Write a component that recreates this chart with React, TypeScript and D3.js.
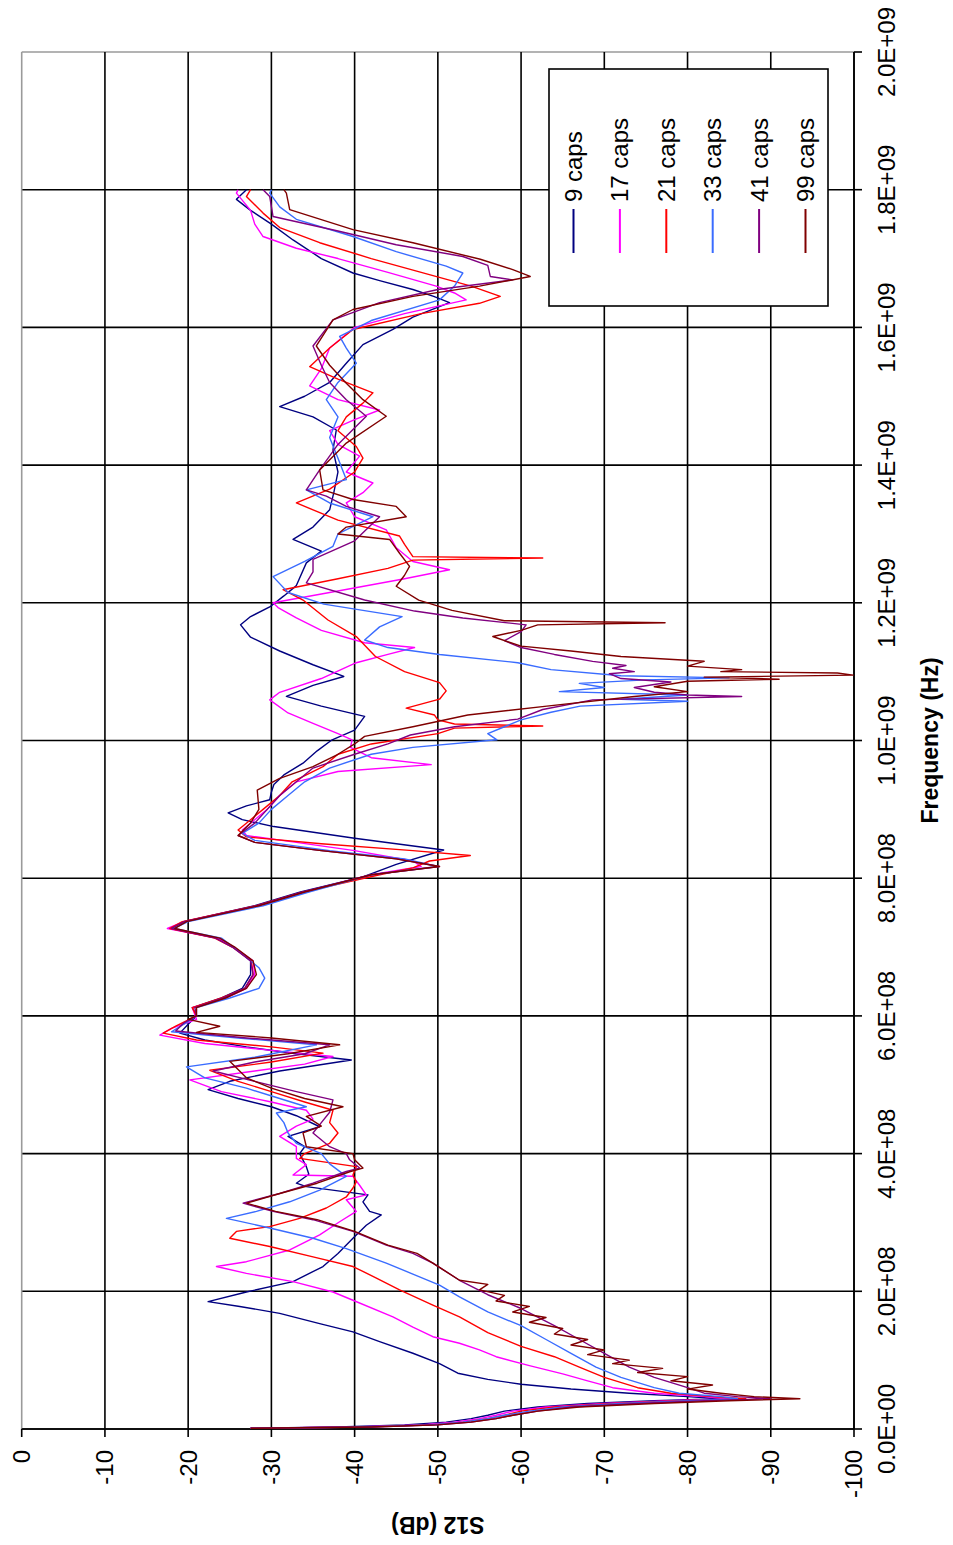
import React from 'react';
import * as d3 from 'd3';

// Axis ticks (frequency in MHz, S12 in dB)
const FREQ_TICKS = [0, 200, 400, 600, 800, 1000, 1200, 1400, 1600, 1800, 2000];
const DB_TICKS = [0, -10, -20, -30, -40, -50, -60, -70, -80, -90, -100];

const SERIES_NAMES = ['9 caps', '17 caps', '21 caps', '33 caps', '41 caps', '99 caps'];
const SERIES_COLORS = ['#000080', '#ff00ff', '#ff0000', '#3a6cff', '#800080', '#800000'];

type Pt = [number, number]; // [MHz, dB]

const caps9: Pt[] = [
  [1,-27.5],[3,-38],[6,-46],[10,-51],[15,-54],[20,-56],[26,-58],[32,-62],[37,-68],[41,-76],[44,-84],[47,-80],[52,-73],[58,-66],[65,-60],[72,-56],[81,-52.4],[95,-50.2],[110,-47],[127,-43],[141,-39.8],[153,-35.8],[168,-31],[178,-26.2],[185,-22.4],[199,-27],[214,-32.6],[236,-36.2],[255,-38],[277,-39.8],[296,-41.4],[311,-43.2],[316,-41.8],[330,-41],[340,-41.6],[352,-34.2],[357,-33],[370,-34.5],[381,-34.2],[400,-33.4],[410,-34],[425,-32],[439,-35.8],[455,-33],[468,-30],[480,-26],[493,-22.4],[505,-25],[520,-31],[536,-39.6],[545,-33],[555,-27],[565,-22],[575,-19],[588,-20],[600,-21],[612,-20.5],[626,-24],[640,-26.5],[660,-27.5],[680,-27.5],[700,-25.5],[713,-23.5],[727,-18],[737,-19.5],[760,-28],[780,-33.5],[802,-41],[820,-45],[841,-50.7],[858,-40],[875,-30.3],[885,-26.5],[895,-24.8],[905,-27],[914,-29.8],[925,-30],[936,-30.3],[950,-31.5],[967,-33.8],[985,-35.5],[1001,-37.3],[1015,-40],[1035,-41.2],[1050,-36],[1064,-31.8],[1080,-35],[1093,-38.7],[1110,-35],[1130,-31],[1150,-27.5],[1168,-26.3],[1180,-27.5],[1194,-29.8],[1210,-31.5],[1225,-33],[1258,-34.2],[1275,-36],[1292,-32.6],[1310,-35],[1335,-37],[1360,-37.5],[1390,-38],[1422,-37.4],[1451,-37.8],[1470,-35],[1485,-31],[1500,-34],[1520,-37],[1548,-39],[1575,-41],[1597,-44.6],[1615,-47],[1636,-51.4],[1645,-49.5],[1655,-47],[1668,-43],[1679,-39.8],[1700,-36],[1727,-32.6],[1750,-30],[1770,-27.5],[1786,-25.8],[1800,-27],
];

const caps17: Pt[] = [
  [1,-27.5],[3,-40],[6,-48],[10,-52],[15,-55],[20,-57],[26,-59],[32,-63],[37,-70],[41,-78],[44,-85],[47,-82],[52,-76],[60,-71],[70,-68],[80,-65],[92,-61],[105,-57],[115,-55],[124.5,-52.6],[134,-49.4],[148,-47],[163,-44.6],[187,-39.8],[199,-37.4],[214,-32.6],[226,-27],[236,-23.4],[243,-27],[260,-32.2],[282,-35.8],[301,-38.2],[316,-40.2],[333,-39],[340,-41.4],[354,-40.6],[367,-39.8],[369,-32.6],[384,-34.2],[393,-33],[410,-33],[425,-31],[440,-33],[450,-35],[463,-34.2],[475,-30],[490,-24],[507,-20.2],[520,-28],[530,-34],[541,-37.4],[550,-30],[560,-22],[572,-16.6],[582,-18],[595,-21],[612,-20.5],[626,-24.5],[640,-27],[660,-28],[680,-27.8],[700,-25.5],[713,-23.5],[727,-17.5],[737,-19.5],[760,-28.5],[780,-34],[805,-42],[817,-48],[825,-47],[840,-40],[852,-33],[862,-27],[870,-26.5],[885,-28],[900,-29.5],[920,-31],[940,-33],[955,-38],[965,-49.2],[975,-42],[990,-39.5],[1001,-39.7],[1010,-38],[1025,-35],[1040,-32],[1059,-29.8],[1070,-31],[1090,-36],[1113,-40.2],[1125,-44],[1135,-47.2],[1142,-41.2],[1160,-36],[1178,-33],[1193,-30.8],[1200,-30.2],[1215,-37],[1235,-46],[1248,-51.4],[1260,-47],[1280,-45],[1306,-43.8],[1325,-40],[1345,-39],[1360,-41],[1374,-42.2],[1390,-39],[1413,-40.6],[1430,-38],[1450,-37],[1466,-40],[1480,-43],[1495,-38],[1515,-34.6],[1540,-36],[1570,-37],[1600,-40],[1620,-46],[1640,-53.4],[1650,-52],[1660,-49.8],[1680,-44],[1700,-38],[1715,-33],[1732,-29],[1750,-28],[1770,-27.5],[1795,-25.8],[1800,-26],
];

const caps21: Pt[] = [
  [1,-27.5],[3,-41],[6,-49],[10,-53],[15,-56],[20,-58],[26,-60],[32,-64],[37,-71],[41,-79],[44,-87],[47,-83],[52,-78],[60,-74],[75,-70],[90,-67],[105,-64],[120,-60],[140,-56],[163,-52.6],[180,-49.4],[202,-45.4],[220,-42.5],[236,-39.8],[250,-35],[265,-29.8],[277,-25],[287,-25.8],[294,-29.8],[306,-33.4],[321,-36.6],[337,-39],[350,-39.8],[359,-40.2],[369,-39.8],[381,-40.2],[393,-33.4],[400,-34],[415,-37],[430,-38],[445,-37],[463,-37.4],[475,-34],[490,-30],[505,-26],[521,-22.6],[533,-30],[546,-36.2],[555,-30],[565,-21],[575,-17],[585,-18.5],[600,-21],[612,-20.5],[626,-24],[640,-26.8],[660,-27.8],[680,-27.6],[700,-25.3],[713,-23.2],[727,-17.8],[737,-19.3],[760,-28.2],[780,-33.8],[805,-43],[815,-47],[825,-49],[833,-53.9],[840,-47],[850,-36],[860,-27],[870,-26],[885,-27.5],[900,-29],[920,-31],[940,-32.5],[962,-36.2],[980,-38],[995,-42],[1010,-50],[1018,-52],[1021,-62.6],[1024,-52],[1030,-50],[1037,-49.6],[1047,-46.2],[1060,-50.2],[1072,-51],[1084,-50.2],[1100,-46],[1122,-42.5],[1151,-40.2],[1175,-36.8],[1204,-33.8],[1219,-31.4],[1235,-38],[1250,-44],[1262,-47],[1265,-62.6],[1267,-47],[1285,-46],[1297,-45.4],[1320,-38],[1345,-33],[1365,-37],[1390,-40],[1410,-41],[1427,-40.2],[1450,-38],[1470,-39],[1490,-41],[1505,-42.2],[1525,-38],[1543,-34.6],[1570,-37],[1597,-39.8],[1620,-48],[1635,-55],[1645,-57.5],[1660,-54],[1680,-48],[1700,-42],[1723,-35.8],[1745,-31],[1766,-29],[1790,-27],[1800,-27.5],
];

const caps33: Pt[] = [
  [1,-27.5],[3,-41],[6,-49],[10,-53],[15,-56],[20,-58],[26,-61],[32,-65],[37,-72],[41,-80],[44,-86],[47,-84],[52,-79],[60,-76],[75,-72],[90,-69],[110,-66],[130,-63],[150,-60],[170,-56],[192,-52.6],[209,-50.2],[225,-47],[241,-43.8],[262,-39],[277,-35],[292,-29.8],[306,-24.6],[316,-28.2],[330,-32.2],[347,-35.8],[367,-39],[385,-37],[400,-36],[415,-33],[430,-32],[445,-31.5],[459,-30.6],[468,-34.2],[480,-31],[495,-27],[510,-22],[526,-19.8],[540,-28],[558,-35.4],[568,-26],[577,-18],[588,-19.5],[600,-21],[612,-21],[626,-25],[640,-28.5],[655,-29.2],[670,-28.5],[690,-26.5],[713,-24],[727,-18.3],[737,-20],[760,-29],[780,-34.5],[805,-42],[817,-50],[828,-46],[840,-37],[855,-28],[865,-26.5],[880,-28.5],[900,-30],[920,-32],[940,-34],[960,-37],[980,-42],[990,-47],[1001,-57.1],[1010,-56],[1020,-58],[1030,-60],[1041,-63.6],[1050,-67.1],[1057,-80],[1060,-72],[1066,-80],[1071,-64.6],[1077,-70],[1083,-67],[1088,-75],[1091,-85],[1094,-72],[1103,-63.6],[1113,-59.6],[1125,-50.2],[1135,-44],[1146,-41.2],[1165,-43],[1180,-45.7],[1198,-36.3],[1215,-32],[1238,-30.2],[1260,-34],[1282,-37.4],[1300,-38],[1325,-42.2],[1345,-37],[1364,-34.2],[1379,-39],[1410,-38],[1440,-37],[1470,-38],[1495,-36.6],[1520,-38],[1548,-40.2],[1570,-39],[1587,-38.2],[1610,-42],[1640,-50.2],[1660,-52],[1679,-53],[1689,-51],[1710,-45],[1732,-39.8],[1757,-33],[1775,-31],[1795,-29.8],[1800,-30],
];

const caps41: Pt[] = [
  [1,-27.5],[3,-42],[6,-50],[10,-54],[15,-57],[20,-59],[26,-62],[32,-66],[37,-74],[41,-82],[44,-90],[47,-86],[52,-82],[60,-80],[75,-76],[90,-73],[110,-70],[130,-67],[150,-64],[175,-60],[195,-56],[216,-52.6],[241,-49.4],[255,-47],[267,-43.8],[287,-39.8],[304,-35],[316,-30.2],[328,-26.6],[342,-31],[357,-35],[374,-39],[379,-40.6],[391,-39.4],[400,-39],[410,-37],[430,-35],[445,-36],[460,-37],[478,-37.4],[490,-33],[505,-28],[520,-23],[533,-28],[545,-34],[558,-37],[568,-27],[578,-18.5],[590,-19.5],[600,-21],[612,-20.8],[626,-24.2],[640,-26.8],[660,-27.8],[680,-27.5],[700,-25.3],[713,-23.3],[727,-18],[737,-19.5],[760,-28.3],[780,-33.8],[805,-42],[817,-50.2],[828,-45],[840,-36],[852,-28],[862,-26],[880,-28],[900,-29.5],[920,-31],[940,-33],[960,-35],[980,-40],[995,-44],[1008,-46.7],[1020,-52],[1031,-59.6],[1045,-62.6],[1059,-68.6],[1064,-86.5],[1066,-80],[1070,-76],[1077,-73.6],[1085,-78],[1090,-72],[1097,-70.6],[1100,-73.6],[1105,-71],[1109,-72.6],[1115,-68.6],[1125,-64],[1135,-60],[1145,-58],[1158,-60],[1168,-60.6],[1178,-53],[1188,-47.2],[1204,-41.2],[1229,-34.2],[1245,-35],[1263,-35],[1290,-40],[1325,-43],[1340,-39],[1355,-36.6],[1364,-34.2],[1393,-35.8],[1430,-38],[1471,-41.4],[1495,-39],[1520,-37],[1545,-36],[1573,-35],[1611,-37.4],[1636,-43],[1655,-50],[1669,-59],[1674,-56.3],[1690,-56],[1703,-53],[1720,-45],[1740,-38],[1761,-30.2],[1790,-29.8],[1800,-29],
];

const caps99: Pt[] = [
  [1,-27.5],[3,-42],[6,-50],[10,-54],[15,-57],[20,-59],[26,-62],[32,-67],[37,-76],[41,-85],[44,-93.5],[47,-88],[52,-84],[58,-80],[64,-83],[70,-78],[76,-80],[82,-74],[88,-77],[95,-71],[100,-73],[108,-68],[115,-70],[122,-66],[130,-68],[138,-64],[146,-65],[155,-61],[162,-63],[170,-59],[178,-61],[186,-57],[194,-58],[202,-55],[210,-56],[216,-52.6],[241,-49.4],[255,-47.5],[267,-44],[287,-40],[304,-35.5],[316,-30.5],[328,-27],[342,-31],[357,-35.5],[374,-39.5],[379,-41],[391,-40],[400,-39.8],[410,-34.2],[430,-33.8],[440,-36],[454,-34.2],[468,-38.6],[480,-34],[495,-30],[510,-27],[534,-25],[545,-32],[558,-38.2],[568,-30],[576,-21],[585,-23.8],[595,-20],[600,-21],[612,-21],[626,-24.5],[640,-27],[660,-28.2],[680,-27.8],[700,-25.6],[713,-23.8],[727,-18.4],[737,-19.8],[760,-28.5],[780,-34],[805,-42],[817,-50.2],[828,-45],[840,-36],[852,-28],[862,-26],[880,-27.5],[900,-28.5],[928,-28.3],[945,-31],[962,-35],[980,-38],[995,-40],[1006,-41.2],[1020,-47],[1037,-53.6],[1050,-63.1],[1064,-73.6],[1071,-80],[1078,-76],[1086,-80],[1089,-91],[1092,-82],[1095,-99.9],[1098,-98],[1100,-84],[1103,-86.5],[1108,-80],[1115,-82],[1122,-72],[1130,-66],[1137,-60],[1151,-56.6],[1160,-60],[1168,-62],[1171,-77.3],[1174,-58],[1189,-51.7],[1204,-47.7],[1224,-45],[1240,-46],[1253,-46.6],[1272,-45.4],[1292,-44.2],[1300,-38],[1310,-39],[1325,-46.2],[1340,-45],[1350,-39.8],[1364,-36.2],[1393,-35.8],[1432,-39],[1471,-43.8],[1495,-41],[1519,-39],[1545,-37],[1573,-35.4],[1611,-37.4],[1626,-39.8],[1645,-47],[1660,-55],[1674,-61.1],[1684,-59],[1699,-55.1],[1723,-47],[1742,-39.8],[1771,-32.2],[1795,-31.8],[1800,-31.5],
];

const SERIES_DATA = [caps9, caps17, caps21, caps33, caps41, caps99];

const FONT = '"Liberation Sans", Arial, sans-serif';

function freqLabel(mhz: number): string {
  const hz = mhz * 1e6;
  if (hz === 0) return '0.0E+00';
  const exp = Math.floor(Math.log10(hz));
  const mant = hz / Math.pow(10, exp);
  return `${mant.toFixed(1)}E+${String(exp).padStart(2, '0')}`;
}

export default function App() {
  // The chart is laid out landscape (width x height) and then turned a quarter turn
  const W = 1545;
  const left = 116, right = 1493, top = 21.7, bottom = 854;

  const x = d3.scaleLinear().domain([0, 2000]).range([left, right]);
  const y = d3.scaleLinear().domain([0, -100]).range([top, bottom]);
  const line = d3.line<Pt>().x(d => x(d[0])).y(d => y(d[1]));

  const legX0 = 1239, legX1 = 1476, legY0 = 549, legY1 = 828;
  const legRowY = (i: number) => 573.5 + i * 46.4;

  return (
    <svg width={953} height={1545} style={{ position: 'absolute', left: 0, top: 0, background: '#fff' }}
      fontFamily={FONT}>
      <rect x={0} y={0} width={953} height={1545} fill="#fff" />
      <g transform={`translate(0,${W}) rotate(-90)`}>
        {/* grid */}
        {FREQ_TICKS.map(t => (
          <line key={'gx' + t} x1={x(t)} x2={x(t)} y1={top} y2={bottom}
            stroke={t === 2000 ? '#9a9a9a' : '#000'} strokeWidth={1.6} />
        ))}
        {DB_TICKS.map(t => (
          <line key={'gy' + t} x1={left} x2={right} y1={y(t)} y2={y(t)}
            stroke={t === 0 ? '#9a9a9a' : '#000'} strokeWidth={1.6} />
        ))}
        {/* axes */}
        <line x1={left} x2={left} y1={top} y2={bottom} stroke="#000" strokeWidth={1.6} />
        <line x1={left} x2={right} y1={bottom} y2={bottom} stroke="#000" strokeWidth={1.6} />
        {FREQ_TICKS.map(t => (
          <line key={'tx' + t} x1={x(t)} x2={x(t)} y1={bottom} y2={bottom + 8} stroke="#000" strokeWidth={1.6} />
        ))}
        {DB_TICKS.map(t => (
          <line key={'ty' + t} x1={left - 8} x2={left} y1={y(t)} y2={y(t)} stroke="#000" strokeWidth={1.6} />
        ))}

        {/* series */}
        {SERIES_DATA.map((data, i) => (
          <path key={SERIES_NAMES[i]} d={line(data) || ''} fill="none"
            stroke={SERIES_COLORS[i]} strokeWidth={1.4} strokeLinejoin="round" />
        ))}

        {/* tick labels */}
        {FREQ_TICKS.map(t => (
          <text key={'lx' + t} x={x(t)} y={bottom + 41} textAnchor="middle" fontSize={24}>{freqLabel(t)}</text>
        ))}
        {DB_TICKS.map(t => (
          <text key={'ly' + t} x={left - 21} y={y(t)} dy="0.35em" textAnchor="end" fontSize={24}>{t}</text>
        ))}

        {/* axis titles */}
        <text x={(left + right) / 2} y={938} textAnchor="middle" fontSize={23} fontWeight="bold">Frequency (Hz)</text>
        <text transform={`translate(${28},${(top + bottom) / 2}) rotate(-90)`} textAnchor="middle"
          fontSize={23} fontWeight="bold">S12 (dB)</text>

        {/* legend */}
        <rect x={legX0} y={legY0} width={legX1 - legX0} height={legY1 - legY0} fill="#fff" stroke="#000" strokeWidth={1.6} />
        {SERIES_NAMES.map((name, i) => (
          <g key={'leg' + name}>
            <line x1={1292} x2={1336} y1={legRowY(i)} y2={legRowY(i)} stroke={SERIES_COLORS[i]} strokeWidth={2} />
            <text x={1343} y={legRowY(i)} dy="0.35em" fontSize={24}>{name}</text>
          </g>
        ))}
      </g>
    </svg>
  );
}
